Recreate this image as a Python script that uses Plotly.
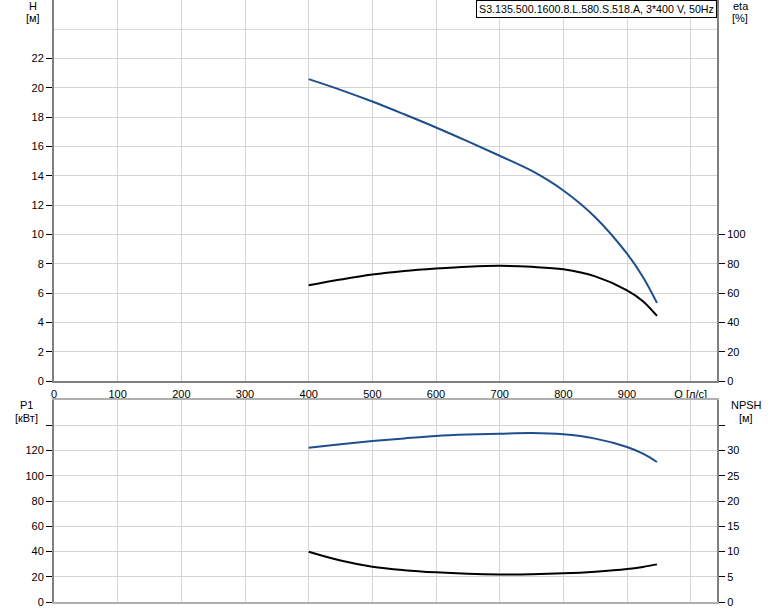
import plotly.graph_objects as go

# ---- data ----
q_h = [400, 450, 500, 550, 600, 650, 700, 750, 800, 850, 900, 925, 947]
head = [20.6, 19.87, 19.07, 18.2, 17.3, 16.35, 15.37, 14.35, 13.0, 11.18, 8.69, 7.1, 5.33]

q_eta = [400, 450, 500, 550, 600, 650, 700, 750, 800, 850, 900, 925, 947]
eta = [65.3, 69.2, 72.6, 75.0, 76.7, 78.0, 78.6, 77.9, 76.2, 71.4, 61.9, 54.5, 44.4]

q_p = [400, 450, 500, 550, 600, 650, 700, 750, 800, 850, 900, 925, 947]
p1 = [122.2, 125.0, 127.5, 129.6, 131.5, 132.6, 133.3, 133.8, 132.8, 129.4, 122.8, 117.5, 110.9]

q_n = [400, 450, 500, 550, 600, 650, 700, 750, 800, 850, 900, 925, 947]
npsh = [9.94, 8.2, 6.98, 6.3, 5.87, 5.6, 5.47, 5.5, 5.67, 6.0, 6.52, 6.95, 7.45]

x_ticks = [0, 100, 200, 300, 400, 500, 600, 700, 800, 900, 1000]
x_ticktext = ["0", "100", "200", "300", "400", "500", "600", "700", "800", "900", "Q [л/с]"]
h_ticks = [0, 2, 4, 6, 8, 10, 12, 14, 16, 18, 20, 22]
eta_ticks = [0, 20, 40, 60, 80, 100]
p1_ticks = [0, 20, 40, 60, 80, 100, 120, 140]
p1_ticktext = ["0", "20", "40", "60", "80", "100", "120", ""]
npsh_ticks = [0, 5, 10, 15, 20, 25, 30, 35]
npsh_ticktext = ["0", "5", "10", "15", "20", "25", "30", ""]

title_text = "S3.135.500.1600.8.L.580.S.518.A, 3*400 V, 50Hz"

BLUE = "#1f4e8c"
AXC = "#808080"
GRID = "#d4d4d4"
FONT = "Liberation Sans, Arial, sans-serif"

fig = go.Figure()
fig.add_trace(go.Scatter(x=q_h, y=head, mode="lines", line=dict(color=BLUE, width=2, shape="spline"),
                         xaxis="x", yaxis="y", showlegend=False))
fig.add_trace(go.Scatter(x=q_eta, y=eta, mode="lines", line=dict(color="black", width=2, shape="spline"),
                         xaxis="x", yaxis="y2", showlegend=False))
fig.add_trace(go.Scatter(x=q_p, y=p1, mode="lines", line=dict(color=BLUE, width=2, shape="spline"),
                         xaxis="x2", yaxis="y3", showlegend=False))
fig.add_trace(go.Scatter(x=q_n, y=npsh, mode="lines", line=dict(color="black", width=2, shape="spline"),
                         xaxis="x2", yaxis="y4", showlegend=False))

H_TOT = 602.0
top_dom = [(H_TOT - 381) / H_TOT, 1.0]
bot_dom = [0.0, (H_TOT - 400) / H_TOT]
xr = [0, 1041.3]
tf = dict(family=FONT, size=11, color="black")

fig.update_layout(
    width=774, height=611,
    margin=dict(l=54, r=57, t=0, b=9),
    paper_bgcolor="white", plot_bgcolor="white",
    font=tf,
    xaxis=dict(domain=[0, 1], range=xr, anchor="y", tickvals=x_ticks, ticktext=x_ticktext,
               showgrid=True, gridcolor=GRID, gridwidth=1, showline=True, linecolor=AXC, linewidth=2,
               ticks="", zeroline=False, tickfont=tf, ticklabelstandoff=2),
    yaxis=dict(domain=top_dom, range=[0, 26], tickvals=h_ticks, showgrid=True, gridcolor=GRID, gridwidth=1,
               showline=True, linecolor=AXC, linewidth=2, ticks="outside", ticklen=6, tickcolor="black",
               zeroline=False, tickfont=tf),
    yaxis2=dict(overlaying="y", side="right", range=[0, 260], tickvals=eta_ticks, showgrid=False,
                showline=True, linecolor=AXC, linewidth=2, ticks="outside", ticklen=6, tickcolor="black",
                zeroline=False, tickfont=tf, anchor="x"),
    xaxis2=dict(domain=[0, 1], range=xr, anchor="y3", tickvals=x_ticks, showticklabels=False,
                showgrid=True, gridcolor=GRID, gridwidth=1, showline=True, linecolor="#b0b0b0", linewidth=2,
                mirror=True, ticks="", zeroline=False),
    yaxis3=dict(domain=bot_dom, range=[0, 160], tickvals=p1_ticks, ticktext=p1_ticktext, anchor="x2",
                showgrid=True, gridcolor=GRID, gridwidth=1, showline=True, linecolor=AXC, linewidth=2,
                ticks="outside", ticklen=6, tickcolor="black", zeroline=False, tickfont=tf),
    yaxis4=dict(overlaying="y3", side="right", range=[0, 40], tickvals=npsh_ticks, ticktext=npsh_ticktext,
                anchor="x2", showgrid=False, showline=True, linecolor=AXC, linewidth=2,
                ticks="outside", ticklen=6, tickcolor="black", zeroline=False, tickfont=tf),
)

# unlabeled grid line at H = 24
fig.add_shape(type="line", xref="x domain", yref="y", x0=0, x1=1, y0=24, y1=24,
              line=dict(color=GRID, width=1), layer="below")

def py(p):
    return (H_TOT - p) / H_TOT

def px(p):
    return (p - 54) / 663.0

anns = [
    ("H", 33, 6), ("[м]", 33, 18),
    ("eta", 741, 6), ("[%]", 740, 18),
    ("P1", 26, 405), ("[кВт]", 26, 418),
    ("NPSH", 746, 405), ("[м]", 746, 418),
]
for t, x, y in anns:
    fig.add_annotation(text=t, x=px(x), y=py(y), xref="paper", yref="paper", showarrow=False,
                       xanchor="center", yanchor="middle", font=tf)

fig.add_annotation(text=title_text, x=1, y=1, xref="paper", yref="paper", showarrow=False,
                   xanchor="right", yanchor="top", font=dict(family=FONT, size=10.7, color="black"),
                   bgcolor="white", bordercolor="black", borderwidth=1, borderpad=2)

fig.write_html("out.html", config={"displayModeBar": False},
               post_script="document.body.style.margin='0';document.body.style.overflow='hidden';")
